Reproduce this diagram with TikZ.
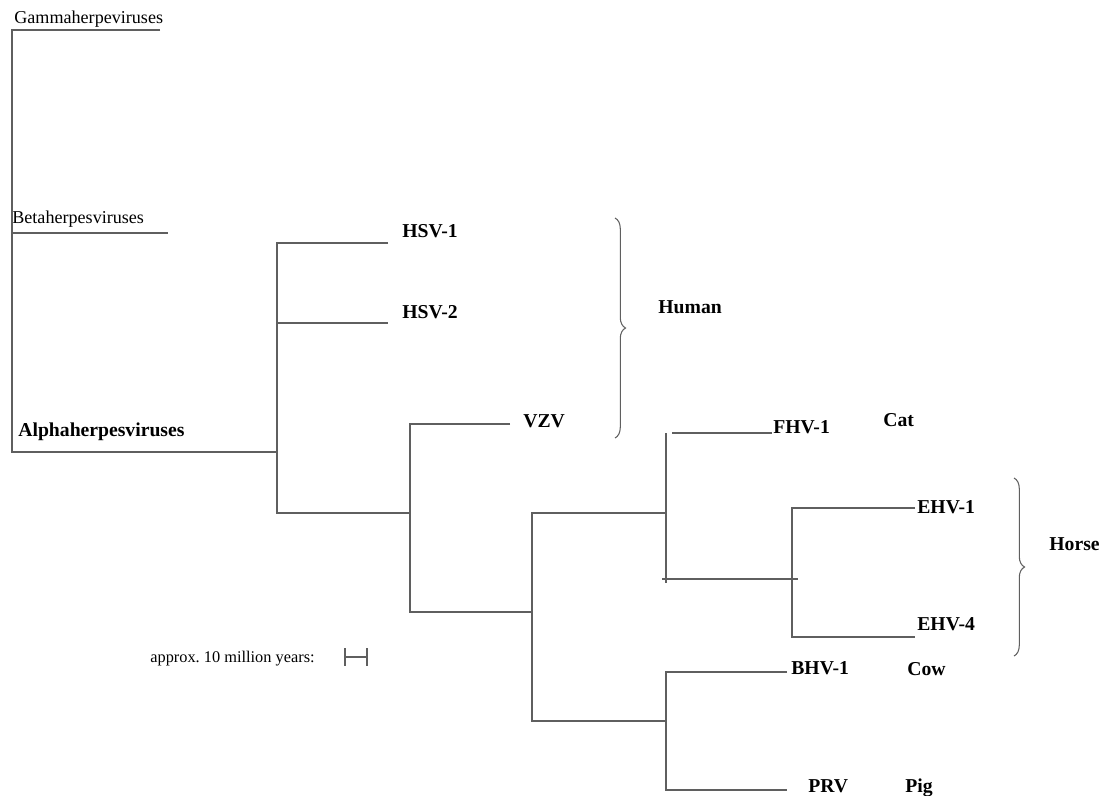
\documentclass[tikz,border=0pt]{standalone}
\usepackage{fontspec}
\setmainfont{Liberation Serif}
\usetikzlibrary{decorations.pathreplacing}
\definecolor{GrisRama}{RGB}{95,95,95}

\begin{document}
\begin{tikzpicture}[x=0.02cm,y=-0.02cm,
    rama/.style={draw=GrisRama,line width=0.75pt},
    hoja/.style={anchor=base west,inner sep=0pt,font=\fontsize{11.2}{13}\selectfont\bfseries},
    grupo/.style={anchor=base west,inner sep=0pt,font=\fontsize{10.3}{12}\selectfont},
    llave/.style={draw=GrisRama,line width=0.6pt,decoration={brace,amplitude=6pt},decorate}]
  \useasboundingbox (0,0) rectangle (1111,795);
  % grandes grupos
  \node[grupo] (gamma) at (14,23) {Gammaherpeviruses};
  \node[grupo] (beta) at (12,223) {Betaherpesviruses};
  \node[hoja] (alpha) at (18,436) {Alphaherpesviruses};
  \coordinate (gTip) at (160,30);
  \coordinate (rTop) at (12,30);
  \coordinate (rBeta) at (12,233);
  \coordinate (bTip) at (168,233);
  \coordinate (rBot) at (12,452);
  \coordinate (aJoin) at (277,452);
  \draw[rama] (gTip) -- (rTop) -- (rBot) -- (aJoin);
  \draw[rama] (rBeta) -- (bTip);
  % virus humanos
  \node[hoja] (hsv1) at (402,237) {HSV-1};
  \node[hoja] (hsv2) at (402,318) {HSV-2};
  \node[hoja] (vzv) at (523,427) {VZV};
  \coordinate (h1Tip) at (388,243);
  \coordinate (aH2) at (277,323);
  \coordinate (h2Tip) at (388,323);
  \coordinate (aBot) at (277,513);
  \coordinate (bJoin) at (410,513);
  \coordinate (vTip) at (510,424);
  \coordinate (bBot) at (410,612);
  \coordinate (cJoin) at (532,612);
  \draw[rama] (h1Tip) -| (aBot) -- (bJoin);
  \draw[rama] (aH2) -- (h2Tip);
  \draw[rama] (vTip) -| (bBot) -- (cJoin);
  % virus animales
  \node[hoja] (fhv1) at (773,433) {FHV-1};
  \node[hoja] (ehv1) at (917,513) {EHV-1};
  \node[hoja] (ehv4) at (917,630) {EHV-4};
  \node[hoja] (bhv1) at (791,674) {BHV-1};
  \node[hoja] (prv) at (808,792) {PRV};
  \coordinate (dJoin) at (666,513);
  \coordinate (cBot) at (532,721);
  \coordinate (fJoin) at (666,721);
  \draw[rama] (dJoin) -| (cBot) -- (fJoin);
  \coordinate (dTop) at (666,433);
  \coordinate (dBot) at (666,583);
  \coordinate (fStart) at (672,433);
  \coordinate (fTip) at (772,433);
  \draw[rama] (dTop) -- (dBot);
  \draw[rama] (fStart) -- (fTip);
  \coordinate (dTick) at (662,579);
  \coordinate (eTick) at (798,579);
  \draw[rama] (dTick) -- (eTick);
  \coordinate (e1Tip) at (915,508);
  \coordinate (eBot) at (792,637);
  \coordinate (e4Tip) at (915,637);
  \draw[rama] (e1Tip) -| (eBot) -- (e4Tip);
  \coordinate (b1Tip) at (787,672);
  \coordinate (fBot) at (666,790);
  \coordinate (pTip) at (787,790);
  \draw[rama] (b1Tip) -| (fBot) -- (pTip);
  % huespedes
  \node[hoja] (cat) at (883,426) {Cat};
  \node[hoja] (cow) at (907,675) {Cow};
  \node[hoja] (pig) at (905,792) {Pig};
  \coordinate (huTop) at (615,218);
  \coordinate (huBot) at (615,438);
  \draw[llave] (huTop) -- (huBot);
  \node[hoja] (human) at (658,313) {Human};
  \coordinate (hoTop) at (1014,478);
  \coordinate (hoBot) at (1014,656);
  \draw[llave] (hoTop) -- (hoBot);
  \node[hoja] (horse) at (1049,550) {Horse};
  % escala
  \node[grupo,font=\fontsize{9.3}{11}\selectfont] (escala) at (150,662) {approx.\ 10 million years:};
  \coordinate (eIzq) at (345,657);
  \coordinate (eDer) at (367,657);
  \draw[rama,line width=0.6pt] (eIzq) -- (eDer);
  \draw[rama,line width=0.6pt] ([yshift=-5]eIzq) -- ([yshift=5]eIzq);
  \draw[rama,line width=0.6pt] ([yshift=-5]eDer) -- ([yshift=5]eDer);
\end{tikzpicture}
\end{document}
